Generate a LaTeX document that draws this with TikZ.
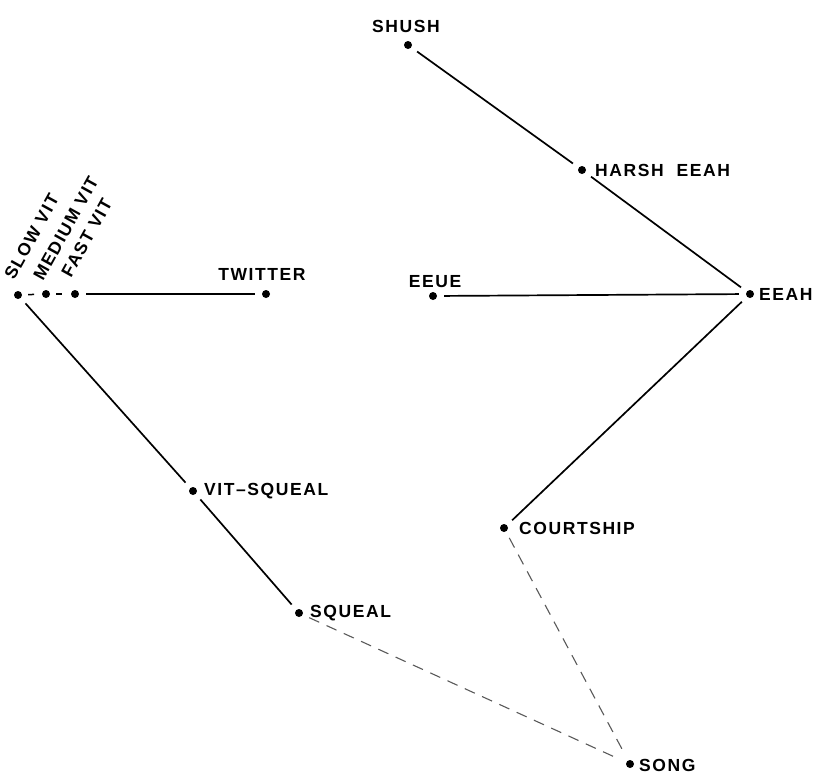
\documentclass[tikz,border=0pt]{standalone}
\usepackage{fontspec}
\setmainfont{Liberation Sans}[LetterSpace=9]
\begin{document}
\begin{tikzpicture}[x=1pt,y=-1pt,
  dot/.style={circle,fill=black,inner sep=0pt,minimum size=8pt},
  lbl/.style={font=\fontsize{17.5}{20}\selectfont\bfseries,inner sep=0pt},
  solidline/.style={line width=1.7pt,shorten >=7pt,shorten <=7pt},
  dashline/.style={line width=1.1pt,black!65,dash pattern=on 11pt off 8pt,shorten >=7pt,shorten <=7pt},
  shortdash/.style={line width=1.5pt,dash pattern=on 6pt off 4pt,shorten >=6pt,shorten <=6pt}]
\useasboundingbox (0,0) rectangle (821,774);
% dots
\node[dot] (shush) at (408,45) {};
\node[dot] (harsh) at (582,170) {};
\node[dot] (eeah) at (750,294) {};
\node[dot] (eeue) at (433,296) {};
\node[dot] (court) at (504,528) {};
\node[dot] (song) at (630,764) {};
\node[dot] (squeal) at (299,613) {};
\node[dot] (vitsq) at (193,491) {};
\node[dot] (slow) at (18,295) {};
\node[dot] (medium) at (46,294) {};
\node[dot] (fast) at (75,294) {};
\node[dot] (twitter) at (266,294) {};
% labels
\node[lbl,anchor=base] (lshush) at (406,32) {SHUSH};
\node[lbl,anchor=west] (lharsh) at (595,170) {HARSH\ \ EEAH};
\node[lbl,anchor=west] (leeah) at (759,294) {EEAH};
\node[lbl,anchor=base] (leeue) at (435,287) {EEUE};
\node[lbl,anchor=base] (ltwitter) at (262,280) {TWITTER};
\node[lbl,anchor=west] (lvitsq) at (204,491) {VIT--SQUEAL};
\node[lbl,anchor=west] (lsqueal) at (310,613) {SQUEAL};
\node[lbl,anchor=west] (lcourt) at (519,528) {COURTSHIP};
\node[lbl,anchor=base west,text depth=0pt] (lsong) at (639,771) {SONG};
\node[lbl,anchor=base west,rotate=61] (lslow) at (14,281) {SLOW\ VIT};
\node[lbl,anchor=base west,rotate=61] (lmedium) at (43,282) {MEDIUM\ VIT};
\node[lbl,anchor=base west,rotate=61] (lfast) at (71,279) {FAST\ VIT};
% connectors
\draw[solidline] (shush) -- (harsh);
\draw[solidline] (harsh) -- (eeah);
\draw[solidline] (eeue) -- (eeah);
\draw[solidline] (eeah) -- (court);
\draw[solidline] (slow) -- (vitsq);
\draw[solidline] (vitsq) -- (squeal);
\draw[solidline] (fast) -- (twitter);
\draw[shortdash] (slow) -- (medium);
\draw[shortdash] (medium) -- (fast);
\draw[dashline] (court) -- (song);
\draw[dashline] (squeal) -- (song);
\end{tikzpicture}
\end{document}
